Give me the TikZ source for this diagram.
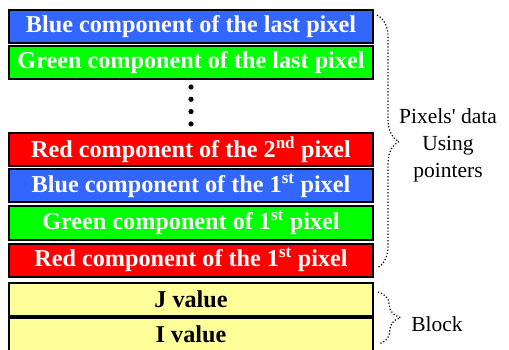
\documentclass[tikz,border=0pt]{standalone}
\usepackage{fontspec}
\setmainfont{Liberation Serif}
\usepackage{xcolor}
\usepackage{tikz}
\usetikzlibrary{decorations.pathreplacing}

\definecolor{pixblue}{HTML}{3366FF}
\definecolor{pixgreen}{HTML}{00FF00}
\definecolor{pixred}{HTML}{FF0000}
\definecolor{pixyellow}{HTML}{FFFF99}

\tikzset{
    pixbox/.style={draw=black, line width=2pt, minimum width=364pt, minimum height=33pt,
        inner sep=0pt, text=white, font=\fontsize{24.2}{27}\selectfont\bfseries},
    valbox/.style={pixbox, fill=pixyellow, text=black},
    dotbrace/.style={dotted, line width=1.2pt, decorate},
    sidetext/.style={align=center, font=\fontsize{21.5}{27}\selectfont}
}

\begin{document}
\begin{tikzpicture}[x=1pt, y=-1pt]

    \useasboundingbox (0,0) rectangle (509,350);

    % Pixel component boxes (top to bottom)
    \node[pixbox, fill=pixblue]  (bluelast)  at (191,27)  {Blue component of the last pixel};
    \node[pixbox, fill=pixgreen] (greenlast) at (191,63)  {Green component of the last pixel};
    \node[pixbox, fill=pixred]   (redsecond) at (191,150) {Red component of the 2\textsuperscript{nd} pixel};
    \node[pixbox, fill=pixblue]  (bluefirst) at (191,186) {Blue component of the 1\textsuperscript{st} pixel};
    \node[pixbox, fill=pixgreen] (greenfirst) at (191,223) {Green component of 1\textsuperscript{st} pixel};
    \node[pixbox, fill=pixred]   (redfirst)  at (191,260) {Red component of the 1\textsuperscript{st} pixel};

    % Block values
    \node[valbox] (jvalue) at (191,299) {J value};
    \node[valbox] (ivalue) at (191,334) {I value};

    % Vertical dots between the boxes
    \foreach \k in {0,1,2,3}
        \fill (191,87+12.3*\k) circle (2.6pt);

    % Brace ends
    \coordinate (pixtop) at (377,15);
    \coordinate (pixbot) at (377,268);
    \coordinate (blocktop) at (378,292);
    \coordinate (blockbot) at (379,344);

    % Dotted braces
    \draw[dotbrace, decoration={brace, amplitude=22pt}] (pixtop) -- (pixbot);       % Pixels' data brace
    \draw[dotbrace, decoration={brace, amplitude=22pt}] (blocktop) -- (blockbot);   % Block brace

    % Side labels
    \node[sidetext] (pixlabel) at (448,145) {Pixels\textquotesingle{} data\\Using\\pointers};
    \node[sidetext] (blocklabel) at (437,324) {Block};

\end{tikzpicture}
\end{document}
